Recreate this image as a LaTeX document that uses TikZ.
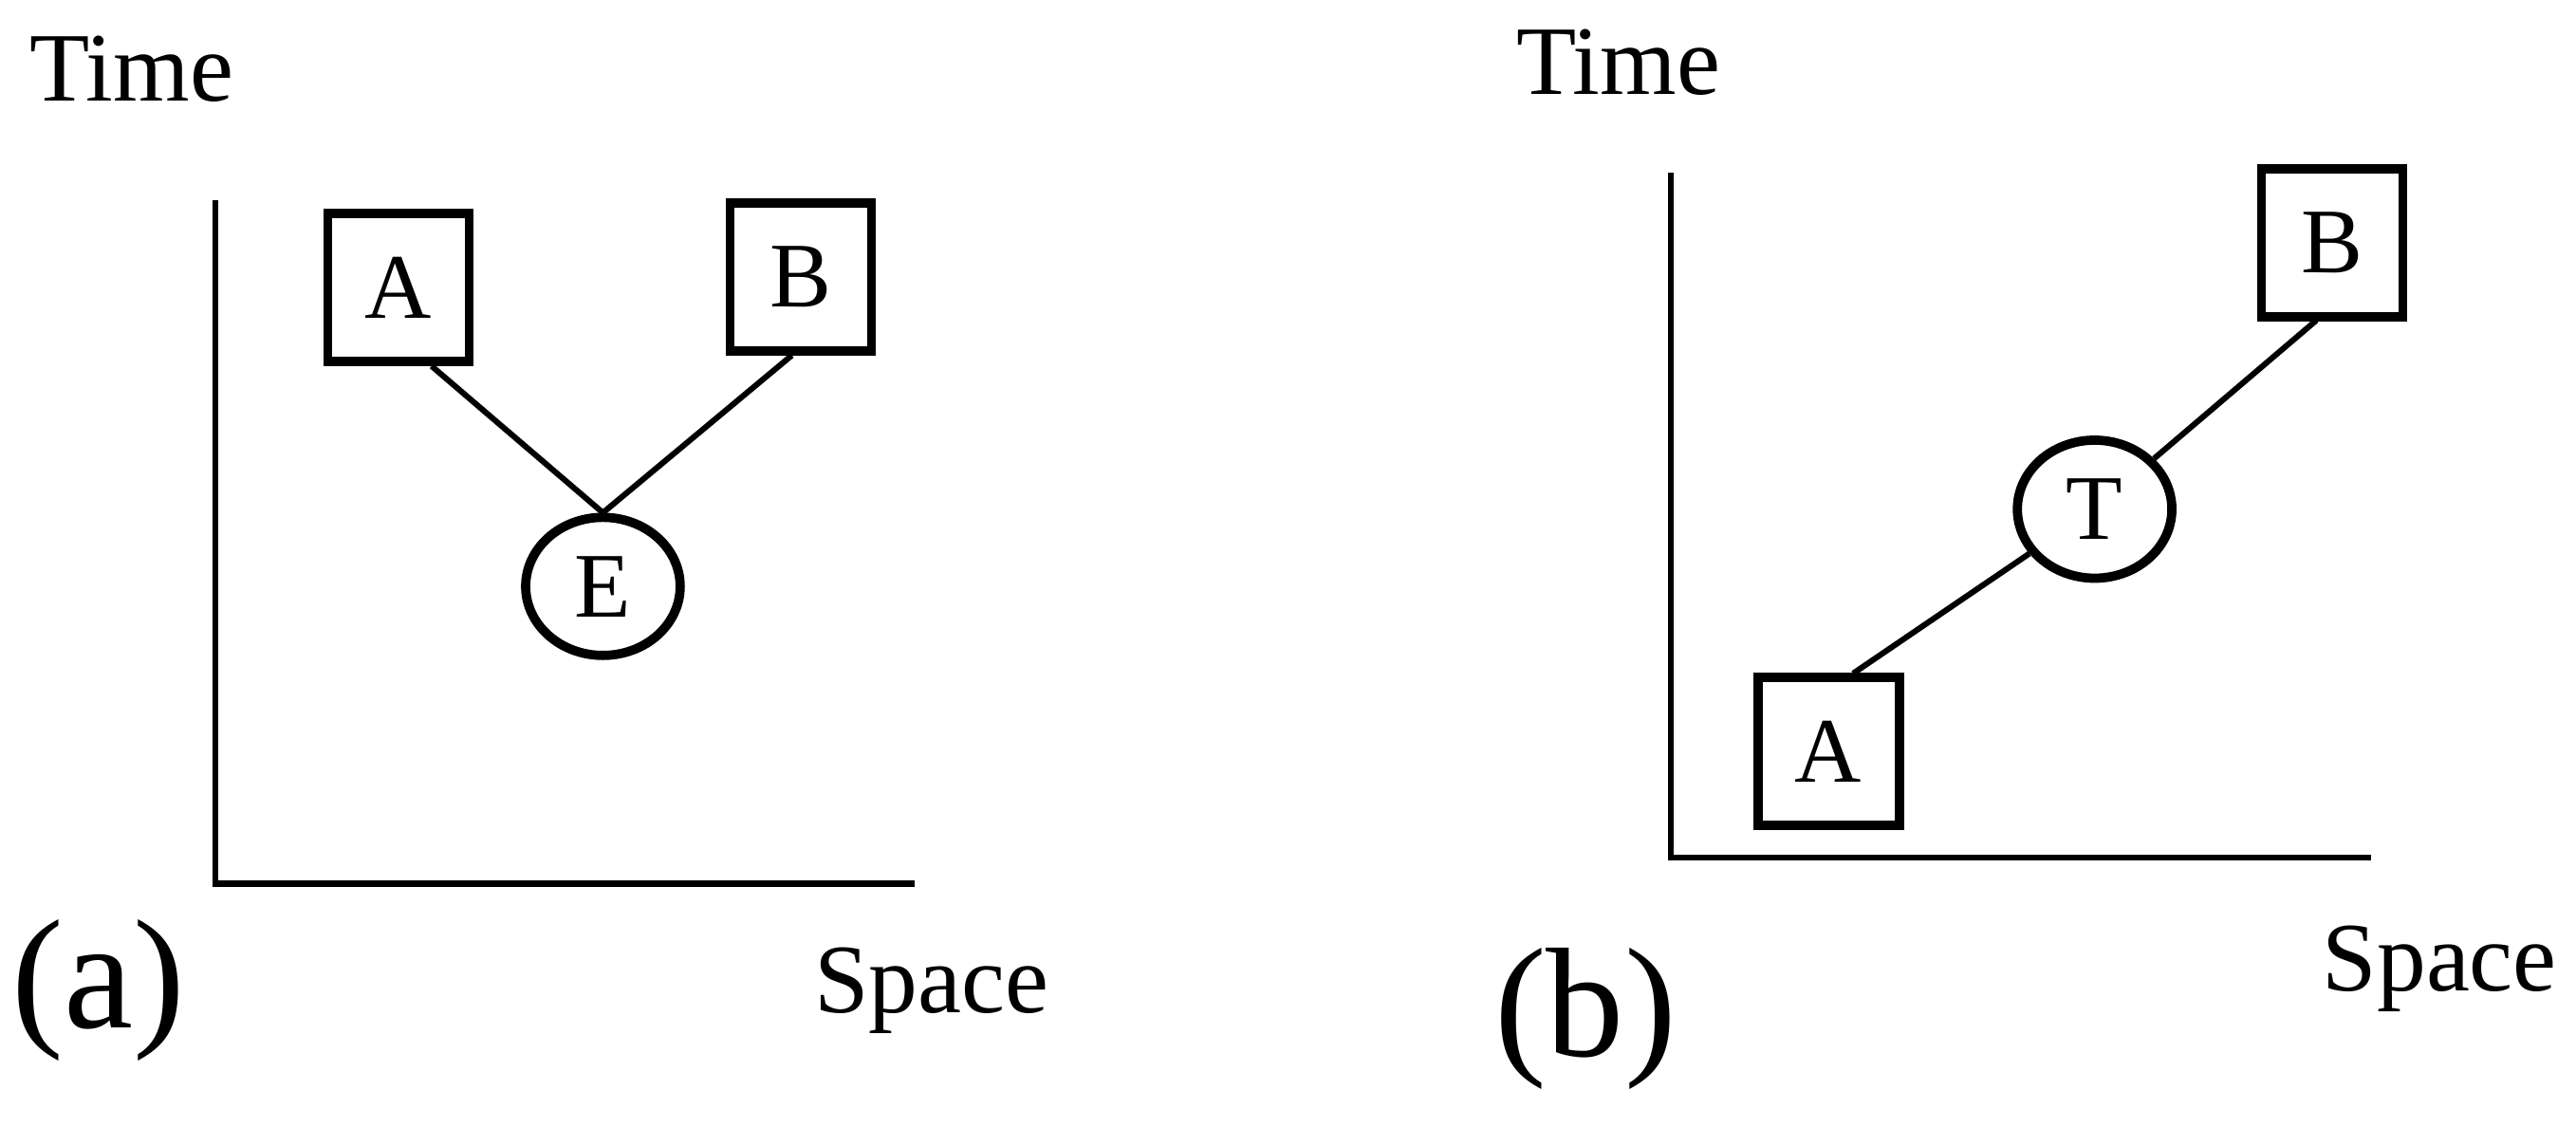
\documentclass[tikz,border=0pt]{standalone}
\usepackage{fontspec}
\setmainfont{Liberation Serif}
\usetikzlibrary{shapes.geometric,calc}
\begin{document}
\begin{tikzpicture}[x=0.01cm,y=-0.01cm,
  box/.style={draw,line width=1.6pt,minimum width=0.86cm,minimum height=0.9cm,inner sep=0pt,font=\fontsize{16}{16}\selectfont},
  ell/.style={draw,ellipse,line width=1.6pt,minimum width=0.94cm,minimum height=0.84cm,inner sep=0pt,font=\fontsize{16}{16}\selectfont},
  lab/.style={font=\fontsize{17}{17}\selectfont},
  big/.style={font=\fontsize{27}{27}\selectfont},
  ln/.style={line width=1pt}]
\useasboundingbox (0,0) rectangle (1568,686);
% (a)
\node[lab] (ta) at (80,42) {Time};
\node[lab] (sa) at (567,603) {Space};
\node[big] (la) at (60,603) {(a)};
\coordinate (a0) at (131,122); \coordinate (a1) at (131,538); \coordinate (a2) at (557,538);
\draw[ln] (a0) -- (a1) -- (a2);
\node[box] (A) at (242.5,175) {A};
\node[box] (B) at (487.5,168.5) {B};
\node[ell] (E) at (367,357) {E};
\draw[ln] ($(A.south west)!0.72!(A.south east)$) -- (E.north);
\draw[ln] ($(B.south west)!0.44!(B.south east)$) -- (E.north);
% (b)
\node[lab] (tb) at (985,38) {Time};
\node[lab] (sb) at (1485,590) {Space};
\node[big] (lb) at (965,620) {(b)};
\coordinate (b0) at (1017,105); \coordinate (b1) at (1017,522); \coordinate (b2) at (1443,522);
\draw[ln] (b0) -- (b1) -- (b2);
\node[box] (A2) at (1113,457.5) {A};
\node[box] (B2) at (1419.5,148) {B};
\node[ell] (T) at (1275,310) {T};
\coordinate (pa) at (1128,410); \coordinate (pb) at (1410,195);
\draw[ln] (pa) -- (T);
\draw[ln] (T) -- (pb);
\end{tikzpicture}
\end{document}
